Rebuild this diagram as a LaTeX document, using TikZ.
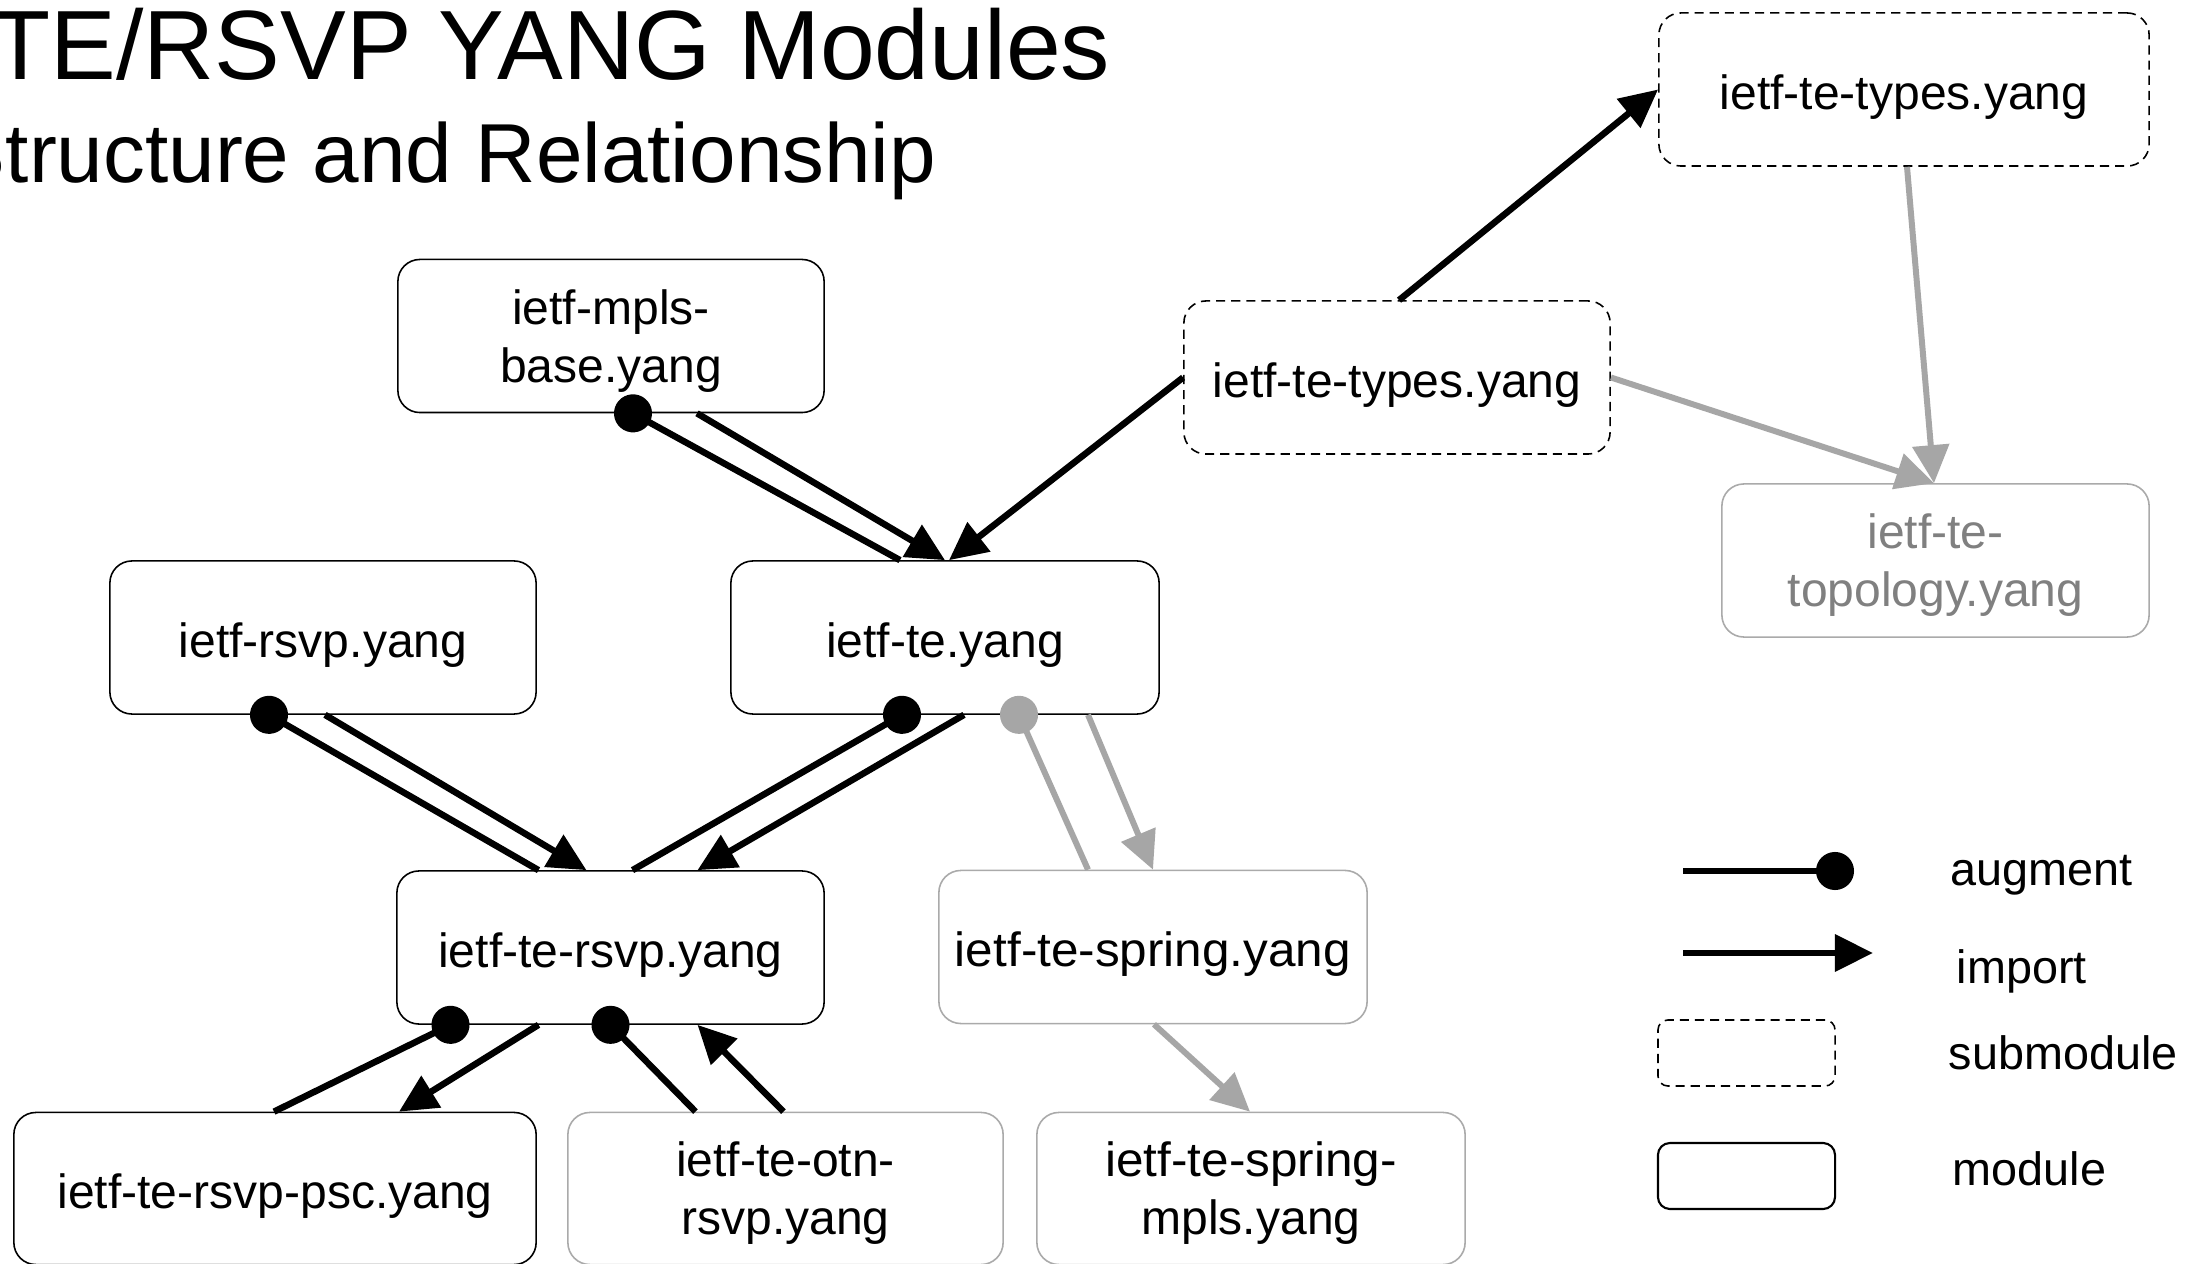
\documentclass[tikz,border=0pt]{standalone}
\usepackage{fontspec}
\setmainfont{Liberation Sans}
\newfontfamily\widefont[FakeStretch=1.03]{Liberation Sans}
\usetikzlibrary{arrows.meta,calc}
\definecolor{lgray}{RGB}{166,166,166}
\definecolor{bgray}{RGB}{170,170,170}
\definecolor{tgray}{RGB}{128,128,128}
\tikzset{
  modbox/.style={draw, rounded corners=0.22cm, minimum height=1.53cm, inner sep=0pt,
    align=center, text depth=0pt, line width=0.45pt,
    font=\fontsize{13.66pt}{16.5pt}\selectfont},
  oneline/.style={text height=0.39cm, text depth=0pt},
  subbox/.style={modbox, dash pattern=on 2.6pt off 1.7pt},
  graybox/.style={modbox, draw=bgray},
  imp/.style={line width=1.85pt, -{Triangle[length=0.38cm, width=0.36cm]}},
  aug/.style={line width=1.85pt, -{Circle[length=0.38cm]}, shorten >=-0.19cm},
  gimp/.style={imp, draw=lgray, fill=lgray, line width=1.7pt},
  gaug/.style={aug, draw=lgray, fill=lgray, line width=1.7pt},
  legtext/.style={anchor=base west, inner sep=0pt, font=\fontsize{13.3pt}{15pt}\selectfont},
}
\begin{document}
\begin{tikzpicture}[x=0.01cm, y=-0.01cm]
\useasboundingbox (0,0) rectangle (2205,1264);
\fill[white] (0,0) rectangle (2205,1264);

% titles
\node[anchor=base east, inner sep=0pt, font=\fontsize{28pt}{32pt}\selectfont] (title) at (1111,80) {TE/RSVP YANG Modules};
\node[anchor=base east, inner sep=0pt, font=\fontsize{23.8pt}{27pt}\selectfont] (subtitle) at (937,183) {Structure and Relationship};

% modules
\node[modbox, minimum width=4.26cm] (mpls) at (611,336) {ietf-mpls-\\base.yang};
\node[subbox, oneline, minimum width=4.26cm] (typesM) at (1397,377.5) {ietf-te-types.yang};
\node[subbox, oneline, minimum width=4.90cm] (typesT) at (1904,89.5) {ietf-te-types.yang};
\node[graybox, minimum width=4.27cm, text=tgray] (topo) at (1935.5,560.5) {ietf-te-\\topology.yang};
\node[modbox, oneline, minimum width=4.26cm] (rsvp) at (323,637.5) {ietf-rsvp.yang};
\node[modbox, oneline, minimum width=4.28cm] (te) at (945,637.5) {ietf-te.yang};
\node[modbox, oneline, minimum width=4.27cm] (tersvp) at (610.5,947.5) {ietf-te-rsvp.yang};
\node[graybox, oneline, minimum width=4.28cm] (spring) at (1153,947) {\widefont ietf-te-spring.yang};
\node[modbox, oneline, minimum width=5.22cm, minimum height=1.52cm] (psc) at (275,1188.5) {ietf-te-rsvp-psc.yang};
\node[graybox, minimum width=4.35cm, minimum height=1.52cm] (otn) at (785.5,1188.5) {ietf-te-otn-\\rsvp.yang};
\node[graybox, minimum width=4.28cm, minimum height=1.52cm] (smpls) at (1251,1188.5) {{\widefont ietf-te-spring-}\\mpls.yang};

% connectors
\draw[aug] ($(te.north)+(-45,0)$) -- ($(mpls.south)+(22,0)$);
\draw[imp] ($(mpls.south)+(86,0)$) -- (te.north);
\draw[imp] (typesM.west) -- ($(te.north)+(4,0)$);
\draw[imp] ($(typesM.north)+(2,0)$) -- (typesT.west);
\draw[gimp] ($(typesT.south)+(3,0)$) -- ($(topo.north)+(-1.5,0)$);
\draw[gimp] (typesM.east) -- ($(topo.north)+(-1.5,0)$);

\draw[aug] ($(tersvp.north)+(-72,0)$) -- ($(rsvp.south)+(-54,0)$);
\draw[imp] ($(rsvp.south)+(2,0)$) -- ($(tersvp.north)+(-24,0)$);
\draw[aug] ($(tersvp.north)+(22,0)$) -- ($(te.south)+(-43,0)$);
\draw[imp] ($(te.south)+(19,0)$) -- ($(tersvp.north)+(87,0)$);
\draw[gaug] ($(spring.north)+(-65,0)$) -- ($(te.south)+(74,0)$);
\draw[gimp] ($(te.south)+(143,0)$) -- (spring.north);
\draw[gimp] ($(spring.south)+(1,0)$) -- ($(smpls.north)+(-1,0)$);

\draw[aug] ($(psc.north)+(-1,0)$) -- ($(tersvp.south)+(-160,0)$);
\draw[imp] ($(tersvp.south)+(-72,0)$) -- ($(psc.north)+(124,0)$);
\draw[aug] ($(otn.north)+(-90,0)$) -- (tersvp.south);
\draw[imp] ($(otn.north)+(-2,0)$) -- ($(tersvp.south)+(87,0)$);

% legend
\coordinate (la1) at (1683,871);
\coordinate (la2) at (1835,871);
\coordinate (li1) at (1683,953);
\coordinate (li2) at (1873,953);
\draw[aug] (la1) -- (la2);
\draw[imp] (li1) -- (li2);
\node[draw, rounded corners=0.1cm, dash pattern=on 2.6pt off 1.7pt, line width=0.45pt, minimum width=1.77cm, minimum height=0.66cm, inner sep=0pt] (lsub) at (1746.5,1053) {};
\node[draw, rounded corners=0.12cm, line width=0.6pt, minimum width=1.77cm, minimum height=0.66cm, inner sep=0pt] (lmod) at (1746.5,1176) {};
\node[legtext] (taug) at (1950,885) {augment};
\node[legtext] (timp) at (1956,983) {import};
\node[legtext] (tsub) at (1948,1069) {submodule};
\node[legtext] (tmod) at (1952,1185) {module};
\end{tikzpicture}
\end{document}
